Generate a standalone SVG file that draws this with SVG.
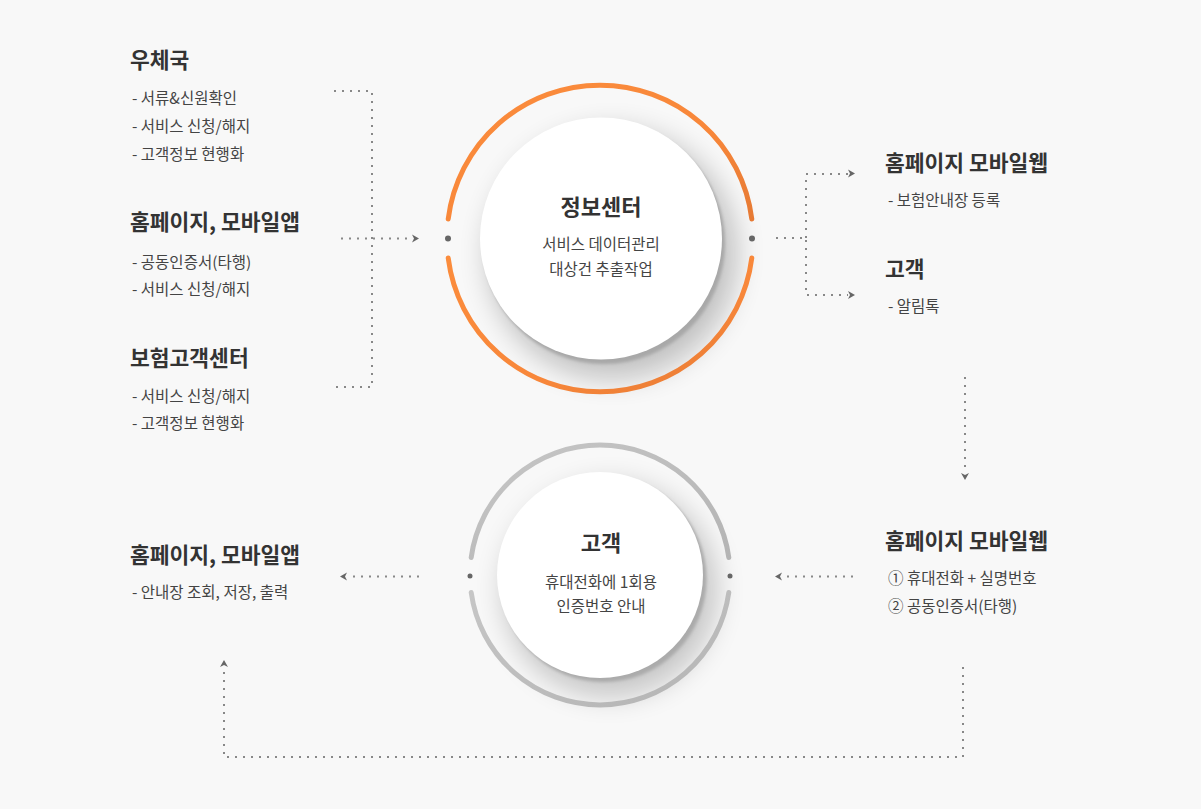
<svg xmlns="http://www.w3.org/2000/svg" width="1201" height="809" viewBox="0 0 1201 809">
<defs>
<style>
.t{font-family:"Noto Sans CJK KR","Noto Sans",sans-serif;font-weight:700;font-size:21.5px;fill:#333}
.i{font-family:"Noto Sans CJK KR","Noto Sans",sans-serif;font-size:15.5px;fill:#444}
.c{font-family:"Noto Sans CJK KR","Noto Sans",sans-serif;font-size:15.5px;fill:#444;text-anchor:middle}
.ct{font-family:"Noto Sans CJK KR","Noto Sans",sans-serif;font-weight:700;font-size:22px;fill:#333;text-anchor:middle}
.d{fill:none;stroke:#888;stroke-width:2;stroke-dasharray:2 6}
.ah{fill:#666}
.dot{fill:#666}
</style>
<linearGradient id="og" x1="0" y1="0" x2="1" y2="1">
<stop offset="0" stop-color="#fb8c3c"/>
<stop offset="0.6" stop-color="#f8873a"/>
<stop offset="1" stop-color="#e67a34"/>
</linearGradient>
<linearGradient id="gg" x1="0" y1="0" x2="1" y2="1">
<stop offset="0" stop-color="#c6c6c6"/>
<stop offset="1" stop-color="#b4b4b4"/>
</linearGradient>
<filter id="soft" x="-40%" y="-40%" width="180%" height="180%">
<feGaussianBlur stdDeviation="14"/>
</filter>
<filter id="edge" x="-10%" y="-10%" width="120%" height="120%">
<feGaussianBlur stdDeviation="1.5"/>
</filter>
<path id="arr" d="M0,-4 L7,0 L0,4 L2,0 Z"/>
</defs>
<rect width="1201" height="809" fill="#f8f8f8"/>

<g id="connectors">
<path class="d" d="M334,91 H372 V387 H336"/>
<path class="d" d="M341,238.5 H412"/>
<use href="#arr" class="ah" transform="translate(412,238.5)"/>
<path class="d" d="M776,238 H806 V295 H848 M806,238 V174 H848"/>
<use href="#arr" class="ah" transform="translate(848,173.5)"/>
<use href="#arr" class="ah" transform="translate(848,295)"/>
<path class="d" d="M965,377 V470"/>
<use href="#arr" class="ah" transform="translate(965,473) rotate(90)"/>
<path class="d" d="M853,576.5 H783"/>
<use href="#arr" class="ah" transform="translate(782,576.5) rotate(180)"/>
<path class="d" d="M419,576.5 H349"/>
<use href="#arr" class="ah" transform="translate(347,576.5) rotate(180)"/>
<path class="d" d="M963,667 V757 H224 V667"/>
<use href="#arr" class="ah" transform="translate(224,667) rotate(-90)"/>
</g>

<g id="center-info">
<circle cx="612" cy="254" r="125" fill="#000" opacity="0.22" filter="url(#soft)"/>
<circle cx="604" cy="243" r="121" fill="#a8a8a8" filter="url(#edge)"/>
<circle cx="601" cy="238.5" r="121" fill="#fff"/>
<path d="M448.2,219 A153,153 0 0 1 751.8,219" fill="none" stroke="url(#og)" stroke-width="5" stroke-linecap="round"/>
<path d="M751.8,258 A153,153 0 0 1 448.2,258" fill="none" stroke="url(#og)" stroke-width="5" stroke-linecap="round"/>
<circle class="dot" cx="448" cy="238.5" r="3"/>
<circle class="dot" cx="752" cy="238.5" r="3"/>
<text class="ct" x="601" y="215">정보센터</text>
<text class="c" x="601" y="250">서비스 데이터관리</text>
<text class="c" x="601" y="275">대상건 추출작업</text>
</g>

<g id="center-customer">
<circle cx="610" cy="590" r="107" fill="#000" opacity="0.2" filter="url(#soft)"/>
<circle cx="603.5" cy="579" r="103" fill="#ababab" filter="url(#edge)"/>
<circle cx="600" cy="575" r="103" fill="#fff"/>
<path d="M471.2,557.5 A130,130 0 0 1 728.8,557.5" fill="none" stroke="url(#gg)" stroke-width="5" stroke-linecap="round"/>
<path d="M728.8,592.5 A130,130 0 0 1 471.2,592.5" fill="none" stroke="url(#gg)" stroke-width="5" stroke-linecap="round"/>
<circle class="dot" cx="470" cy="576" r="2.5"/>
<circle class="dot" cx="730" cy="576" r="2.5"/>
<text class="ct" x="601" y="551">고객</text>
<text class="c" x="601" y="588">휴대전화에 1회용</text>
<text class="c" x="601" y="612">인증번호 안내</text>
</g>

<g id="post-office">
<text class="t" x="130" y="68">우체국</text>
<text class="i" x="132" y="104">- 서류&amp;신원확인</text>
<text class="i" x="132" y="132">- 서비스 신청/해지</text>
<text class="i" x="132" y="160">- 고객정보 현행화</text>
</g>

<g id="homepage-app">
<text class="t" x="130" y="230">홈페이지, 모바일앱</text>
<text class="i" x="132" y="268">- 공동인증서(타행)</text>
<text class="i" x="132" y="295">- 서비스 신청/해지</text>
</g>

<g id="insurance-center">
<text class="t" x="130" y="366">보험고객센터</text>
<text class="i" x="132" y="402">- 서비스 신청/해지</text>
<text class="i" x="132" y="429">- 고객정보 현행화</text>
</g>

<g id="homepage-web-top">
<text class="t" x="885" y="171">홈페이지 모바일웹</text>
<text class="i" x="888" y="206">- 보험안내장 등록</text>
</g>

<g id="customer-right">
<text class="t" x="885" y="277">고객</text>
<text class="i" x="888" y="312">- 알림톡</text>
</g>

<g id="homepage-web-bottom">
<text class="t" x="885" y="549">홈페이지 모바일웹</text>
<text class="i" x="888" y="584">① 휴대전화 + 실명번호</text>
<text class="i" x="888" y="612">② 공동인증서(타행)</text>
</g>

<g id="homepage-app-bottom">
<text class="t" x="130" y="563">홈페이지, 모바일앱</text>
<text class="i" x="132" y="598">- 안내장 조회, 저장, 출력</text>
</g>
</svg>
